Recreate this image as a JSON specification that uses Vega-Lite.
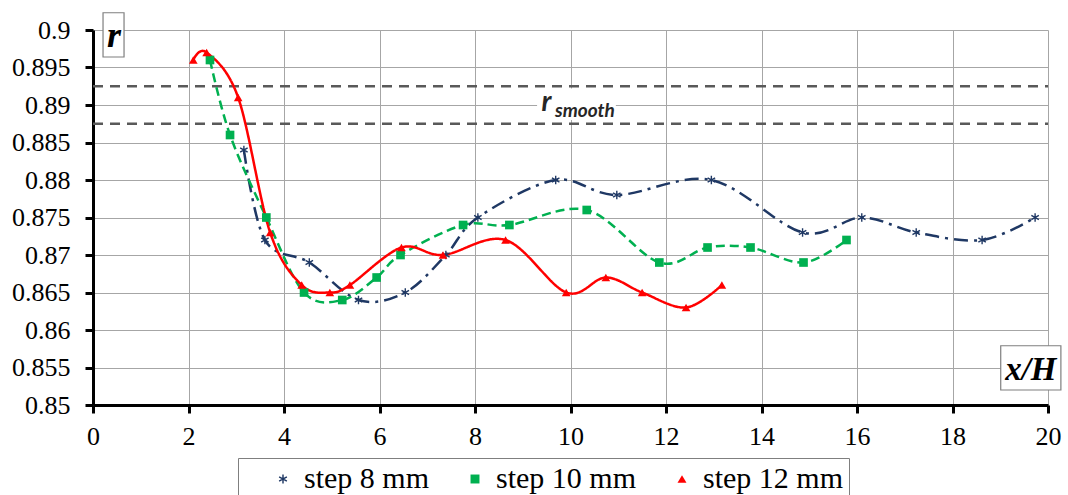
{
  "$schema": "https://vega.github.io/schema/vega-lite/v6.json",
  "width": 955,
  "height": 375,
  "autosize": {"type": "none"},
  "padding": {"left": 93, "top": 30, "right": 20, "bottom": 90},
  "background": "white",
  "config": {
    "view": {"stroke": null},
    "font": "Liberation Serif",
    "axis": {
      "grid": true,
      "gridColor": "#a6a6a6",
      "gridWidth": 1,
      "domainColor": "black",
      "domainWidth": 3,
      "tickColor": "black",
      "tickWidth": 3,
      "tickSize": 8,
      "labelFont": "Liberation Serif",
      "labelFontSize": 26,
      "labelColor": "black",
      "labelFlush": false,
      "labelOverlap": false,
      "title": null
    }
  },
  "datasets": {
    "series": [
      {"series": "step 8 mm", "x": 3.16, "r": 0.884},
      {"series": "step 8 mm", "x": 3.6, "r": 0.872},
      {"series": "step 8 mm", "x": 4.53, "r": 0.869},
      {"series": "step 8 mm", "x": 5.56, "r": 0.864},
      {"series": "step 8 mm", "x": 6.54, "r": 0.865},
      {"series": "step 8 mm", "x": 7.39, "r": 0.870},
      {"series": "step 8 mm", "x": 8.06, "r": 0.875},
      {"series": "step 8 mm", "x": 9.69, "r": 0.880},
      {"series": "step 8 mm", "x": 10.97, "r": 0.878},
      {"series": "step 8 mm", "x": 12.95, "r": 0.880},
      {"series": "step 8 mm", "x": 14.86, "r": 0.873},
      {"series": "step 8 mm", "x": 16.10, "r": 0.875},
      {"series": "step 8 mm", "x": 17.24, "r": 0.873},
      {"series": "step 8 mm", "x": 18.62, "r": 0.872},
      {"series": "step 8 mm", "x": 19.73, "r": 0.875},
      {"series": "step 10 mm", "x": 2.45, "r": 0.896},
      {"series": "step 10 mm", "x": 2.87, "r": 0.886},
      {"series": "step 10 mm", "x": 3.63, "r": 0.875},
      {"series": "step 10 mm", "x": 4.42, "r": 0.865},
      {"series": "step 10 mm", "x": 5.22, "r": 0.864},
      {"series": "step 10 mm", "x": 5.94, "r": 0.867},
      {"series": "step 10 mm", "x": 6.44, "r": 0.870},
      {"series": "step 10 mm", "x": 7.75, "r": 0.874},
      {"series": "step 10 mm", "x": 8.72, "r": 0.874},
      {"series": "step 10 mm", "x": 10.34, "r": 0.876},
      {"series": "step 10 mm", "x": 11.86, "r": 0.869},
      {"series": "step 10 mm", "x": 12.87, "r": 0.871},
      {"series": "step 10 mm", "x": 13.77, "r": 0.871},
      {"series": "step 10 mm", "x": 14.88, "r": 0.869},
      {"series": "step 10 mm", "x": 15.78, "r": 0.872},
      {"series": "step 12 mm", "x": 2.10, "r": 0.896},
      {"series": "step 12 mm", "x": 2.38, "r": 0.897},
      {"series": "step 12 mm", "x": 3.04, "r": 0.891},
      {"series": "step 12 mm", "x": 3.71, "r": 0.873},
      {"series": "step 12 mm", "x": 4.37, "r": 0.866},
      {"series": "step 12 mm", "x": 4.96, "r": 0.865},
      {"series": "step 12 mm", "x": 5.38, "r": 0.866},
      {"series": "step 12 mm", "x": 6.46, "r": 0.871},
      {"series": "step 12 mm", "x": 7.33, "r": 0.870},
      {"series": "step 12 mm", "x": 8.64, "r": 0.872},
      {"series": "step 12 mm", "x": 9.91, "r": 0.865},
      {"series": "step 12 mm", "x": 10.74, "r": 0.867},
      {"series": "step 12 mm", "x": 11.50, "r": 0.865},
      {"series": "step 12 mm", "x": 12.42, "r": 0.863},
      {"series": "step 12 mm", "x": 13.17, "r": 0.866}
    ],
    "smooth": [
      {"x": 0, "x2": 20, "r": 0.8875},
      {"x": 0, "x2": 20, "r": 0.8925}
    ]
  },
  "encoding": {
    "x": {
      "field": "x",
      "type": "quantitative",
      "scale": {"domain": [0, 20], "nice": false, "zero": false},
      "axis": {"values": [0, 2, 4, 6, 8, 10, 12, 14, 16, 18, 20], "format": "d", "labelPadding": 10, "labelFont": "Liberation Serif", "labelFontSize": 26}
    },
    "y": {
      "field": "r",
      "type": "quantitative",
      "scale": {"domain": [0.85, 0.9], "nice": false, "zero": false},
      "axis": {"values": [0.85, 0.855, 0.86, 0.865, 0.87, 0.875, 0.88, 0.885, 0.89, 0.895, 0.9], "format": "~g", "labelPadding": 15, "labelFont": "Liberation Serif", "labelFontSize": 26}
    }
  },
  "layer": [
    {
      "data": {"name": "smooth"},
      "mark": {"type": "rule", "color": "#595959", "strokeWidth": 2.5, "strokeDash": [10, 7]},
      "encoding": {"x2": {"field": "x2"}}
    },
    {
      "data": {"values": [{"x": 9.3, "x2": 10.95, "r": 0.8880, "r2": 0.8922}]},
      "mark": {"type": "rect", "fill": "white", "stroke": null},
      "encoding": {"x2": {"field": "x2"}, "y2": {"field": "r2"}}
    },
    {
      "data": {"name": "series"},
      "mark": {"type": "line", "interpolate": "cardinal", "strokeWidth": 2.5, "clip": true},
      "encoding": {
        "stroke": {
          "field": "series",
          "type": "nominal",
          "scale": {"domain": ["step 12 mm", "step 10 mm", "step 8 mm"], "range": ["#ff0000", "#00b050", "#1f3864"]},
          "legend": null
        },
        "strokeDash": {
          "field": "series",
          "type": "nominal",
          "scale": {"domain": ["step 10 mm", "step 12 mm", "step 8 mm"], "range": [[9, 5], [1, 0], [14, 6, 3, 6]]},
          "legend": null
        }
      }
    },
    {
      "data": {"name": "series"},
      "mark": {"type": "point", "filled": true, "size": 75, "strokeWidth": 0, "opacity": 1},
      "encoding": {
        "color": {
          "field": "series",
          "type": "nominal",
          "scale": {"domain": ["step 8 mm", "step 10 mm", "step 12 mm"], "range": ["#1f3864", "#00b050", "#ff0000"]},
          "legend": {
            "orient": "none",
            "legendX": 145,
            "legendY": 428,
            "direction": "horizontal",
            "title": " ",
            "titleOrient": "left",
            "titleFontSize": 1,
            "titlePadding": 24,
            "strokeColor": "#7f7f7f",
            "fillColor": "white",
            "padding": 6,
            "labelFont": "Liberation Serif",
            "labelFontSize": 30,
            "labelColor": "black",
            "labelOffset": 6,
            "columnPadding": 31,
            "symbolSize": 80,
            "symbolOpacity": 1
          }
        },
        "shape": {
          "field": "series",
          "type": "nominal",
          "scale": {"domain": ["step 8 mm", "step 10 mm", "step 12 mm"], "range": ["M-0.16,-1L0.16,-1L0.16,1L-0.16,1ZM0.786,-0.639L0.946,-0.361L-0.786,0.639L-0.946,0.361ZM-0.946,-0.361L-0.786,-0.639L0.946,0.361L0.786,0.639Z", "square", "triangle-up"]},
          "legend": {
            "orient": "none",
            "legendX": 145,
            "legendY": 428,
            "direction": "horizontal",
            "title": " ",
            "titleOrient": "left",
            "titleFontSize": 1,
            "titlePadding": 24,
            "strokeColor": "#7f7f7f",
            "fillColor": "white",
            "padding": 6,
            "labelFont": "Liberation Serif",
            "labelFontSize": 30,
            "labelColor": "black",
            "labelOffset": 6,
            "columnPadding": 31,
            "symbolSize": 80,
            "symbolOpacity": 1
          }
        }
      }
    },
    {
      "data": {"values": [
        {"x": 0.21, "x2": 0.65, "r": 0.8964, "r2": 0.9023},
        {"x": 19.01, "x2": 20.27, "r": 0.852, "r2": 0.8579}
      ]},
      "mark": {"type": "rect", "fill": "white", "stroke": "#7f7f7f", "strokeWidth": 1.2, "clip": false},
      "encoding": {"x2": {"field": "x2"}, "y2": {"field": "r2"}}
    },
    {
      "data": {"values": [{"x": 0.44, "r": 0.8978, "label": "r"}]},
      "mark": {"type": "text", "font": "Liberation Serif", "fontSize": 36, "fontWeight": "bold", "fontStyle": "italic", "align": "center", "baseline": "alphabetic", "color": "black"},
      "encoding": {"text": {"field": "label"}}
    },
    {
      "data": {"values": [{"x": 19.64, "r": 0.8533, "label": "x/H"}]},
      "mark": {"type": "text", "font": "Liberation Serif", "fontSize": 33, "fontWeight": "bold", "fontStyle": "italic", "align": "center", "baseline": "alphabetic", "color": "black", "clip": false},
      "encoding": {"text": {"field": "label"}}
    },
    {
      "data": {"values": [{"x": 9.395, "r": 0.88924, "label": "r"}]},
      "mark": {"type": "text", "font": "Lato", "fontSize": 28, "fontWeight": "bold", "fontStyle": "italic", "align": "left", "baseline": "alphabetic", "color": "#262626"},
      "encoding": {"text": {"field": "label"}}
    },
    {
      "data": {"values": [{"x": 9.675, "r": 0.8884, "label": "smooth"}]},
      "mark": {"type": "text", "font": "Lato", "fontSize": 19, "fontWeight": "bold", "fontStyle": "italic", "align": "left", "baseline": "alphabetic", "color": "#262626"},
      "encoding": {"text": {"field": "label"}}
    }
  ]
}
